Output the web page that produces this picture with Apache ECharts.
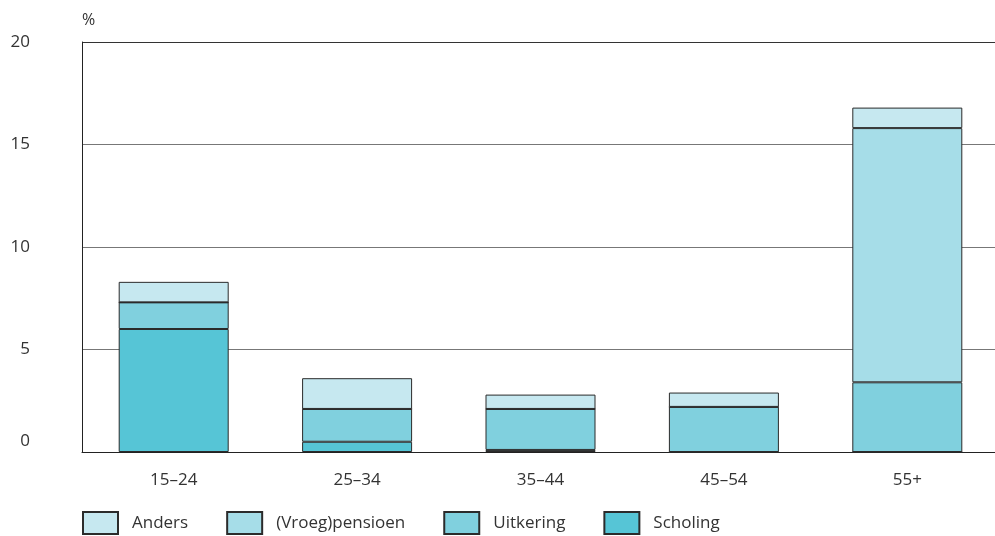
<!DOCTYPE html>
<html>
<head>
<meta charset="utf-8">
<script src="https://cdn.jsdelivr.net/npm/echarts@6/dist/echarts.min.js"></script>
<style>html,body{margin:0;padding:0;background:#fff}#c{width:995px;height:536px}</style>
</head>
<body>
<div id="c"></div>
<script>
const categories = ['15–24', '25–34', '35–44', '45–54', '55+'];
const scholing = [6.0, 0.5, 0.1, 0, 0];
const uitkering = [1.3, 1.6, 2.0, 2.2, 3.4];
const pensioen = [0, 0, 0, 0, 12.4];
const anders = [1.0, 1.5, 0.7, 0.7, 1.0];
const yTicks = [0, 5, 10, 15, 20];

const font = '"Open Sans", "Noto Sans", sans-serif';
const txt = '#333';
function bar(name, data, color) {
  return {
    name, type: 'bar', stack: 'a', data, barWidth: 110,
    itemStyle: { color, borderColor: '#2b2b2b', borderWidth: 1 },
    emphasis: { disabled: true }
  };
}
const chart = echarts.init(document.getElementById('c'), null, { renderer: 'canvas' });
chart.setOption({
  animation: false,
  grid: { left: 82, width: 917, top: 42, bottom: 84, containLabel: false, outerBoundsMode: 'none' },
  legend: {
    left: 82, top: 511, padding: 0,
    icon: 'rect',
    itemWidth: 35, itemHeight: 22, itemGap: 38,
    data: ['Anders', '(Vroeg)pensioen', 'Uitkering', 'Scholing'],
    textStyle: { fontFamily: font, fontSize: 17, color: txt, padding: [2, 0, 0, 9] },
    selectedMode: false
  },
  xAxis: {
    type: 'category', data: categories,
    axisLine: { lineStyle: { color: '#222', width: 1 } },
    axisTick: { show: false },
    axisLabel: { fontFamily: font, fontSize: 17, color: txt, margin: 20 }
  },
  yAxis: {
    type: 'value', min: yTicks[0], max: yTicks[yTicks.length - 1], interval: 5,
    name: '%', nameLocation: 'end', nameGap: 14,
    nameTextStyle: { fontFamily: font, fontSize: 16, color: txt, align: 'left' },
    axisLine: { show: true, lineStyle: { color: '#222', width: 1 } },
    axisTick: { show: false },
    splitLine: { lineStyle: { color: ['#222', '#777', '#777', '#777', '#333'], width: 1 } },
    axisLabel: {
      fontFamily: font, fontSize: 17, color: txt, margin: 52, align: 'right',
      formatter: v => v === 0 ? '{z|0}' : String(v),
      rich: { z: { fontFamily: font, fontSize: 17, color: txt, padding: [0, 0, 22, 0] } }
    }
  },
  series: [
    bar('Scholing', scholing, '#56c5d6'),
    bar('Uitkering', uitkering, '#80d0de'),
    bar('(Vroeg)pensioen', pensioen, '#a6dde8'),
    bar('Anders', anders, '#c6e8f0')
  ]
});
</script>
</body>
</html>
